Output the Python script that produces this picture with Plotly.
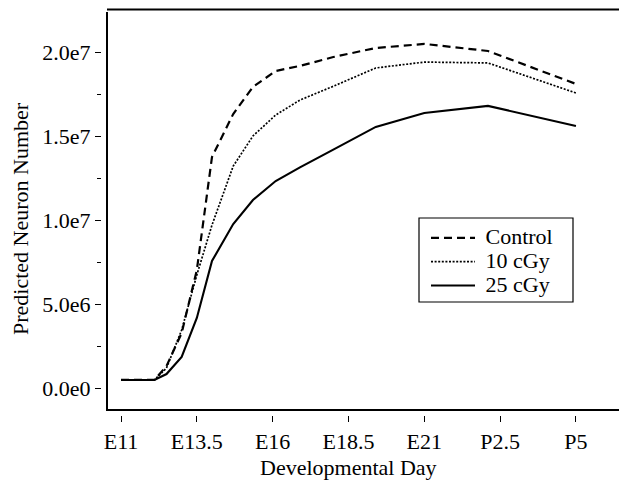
import plotly.graph_objects as go

# Developmental day (E11 = 11, P0 = 21 (E21), P2.5 = 23.5, P5 = 26)
days = [11, 12.1, 12.5, 13, 13.5, 14, 14.7, 15.35, 16.1, 16.9, 18, 19.4, 21, 23.1, 26]

control = [0.48e6, 0.48e6, 1.31e6, 3.27e6, 7.02e6, 13.75e6, 16.31e6, 17.92e6, 18.87e6,
           19.17e6, 19.70e6, 20.24e6, 20.48e6, 20.06e6, 18.10e6]
dose10 = [0.48e6, 0.48e6, 1.19e6, 3.45e6, 6.73e6, 9.70e6, 13.21e6, 15.00e6, 16.25e6,
          17.14e6, 17.96e6, 19.05e6, 19.40e6, 19.35e6, 17.56e6]
dose25 = [0.48e6, 0.48e6, 0.83e6, 1.85e6, 4.17e6, 7.56e6, 9.76e6, 11.19e6, 12.32e6,
          13.13e6, 14.19e6, 15.54e6, 16.37e6, 16.79e6, 15.60e6]

series_names = ["Control", "10 cGy", "25 cGy"]

x_tick_vals = [11, 13.5, 16, 18.5, 21, 23.5, 26]
x_tick_text = ["E11", "E13.5", "E16", "E18.5", "E21", "P2.5", "P5"]
y_tick_vals = [0, 5e6, 1e7, 1.5e7, 2e7]
y_tick_text = ["0.0e0", "5.0e6", "1.0e7", "1.5e7", "2.0e7"]

FONT = "Liberation Serif, Times New Roman, serif"
FS = 22

W, H = 619, 487
L, R, T, B = 102, 619, 9, 415  # plot area in pixels


def px(xp):
    return (xp - L) / (R - L)


def py(yp):
    return (B - yp) / (B - T)


def lbl(s):
    return '<span style="font-size:22px">\u00a0' + s + '</span>'


fig = go.Figure()
styles = [dict(dash="8px,5px", width=2.2), dict(dash="2px,1.6px", width=1.7), dict(dash="solid", width=2.1)]
for name, vals, st in zip(series_names, [control, dose10, dose25], styles):
    fig.add_trace(go.Scatter(x=days, y=vals, mode="lines", name=lbl(name),
                             line=dict(color="black", **st)))

fig.update_layout(
    width=W, height=H,
    margin=dict(l=L, r=W - R, t=T, b=H - B, pad=0, autoexpand=False),
    paper_bgcolor="white", plot_bgcolor="white",
    font=dict(family=FONT, size=FS, color="black"),
    showlegend=True,
    legend=dict(x=px(426), y=py(221), xanchor="left", yanchor="top",
                borderwidth=0, bgcolor="rgba(0,0,0,0)",
                font=dict(family=FONT, size=16, color="black"),
                itemwidth=44, itemclick=False),
    xaxis=dict(range=[11 + (L - 121) / 30.33, 11 + (R - 121) / 30.33],
               tickvals=x_tick_vals, ticktext=x_tick_text, automargin=False,
               ticks="outside", ticklen=6, tickwidth=1.2, tickcolor="black",
               showline=False, showgrid=False, zeroline=False,
               tickfont=dict(family=FONT, size=FS, color="black"),
               ticklabelstandoff=1),
    yaxis=dict(range=[-(B - 388) / 84 * 5e6, (388 - T) / 84 * 5e6],
               tickvals=y_tick_vals, ticktext=y_tick_text, automargin=False,
               ticks="outside", ticklen=6, tickwidth=1.2, tickcolor="black",
               minor=dict(tickvals=[2.5e6, 7.5e6, 1.25e7, 1.75e7], ticks="outside",
                          ticklen=4, tickwidth=1.2, tickcolor="black", showgrid=False),
               showline=False, showgrid=False, zeroline=False,
               tickfont=dict(family=FONT, size=FS, color="black")),
)

# axis frame lines (offset from ticks as in the reference)
fig.add_shape(type="line", xref="paper", yref="paper", x0=px(107), x1=px(107),
              y0=py(12), y1=py(410), line=dict(color="black", width=2))
fig.add_shape(type="line", xref="paper", yref="paper", x0=px(106), x1=1,
              y0=py(410), y1=py(410), line=dict(color="black", width=2))
fig.add_shape(type="line", xref="paper", yref="paper", x0=px(107), x1=1,
              y0=py(9.5), y1=py(9.5), line=dict(color="black", width=2))
# legend frame
fig.add_shape(type="rect", xref="paper", yref="paper", x0=px(419), x1=px(573),
              y0=py(302), y1=py(218), line=dict(color="black", width=1.2))

# axis titles
fig.add_annotation(text="Developmental Day", xref="paper", yref="paper",
                   x=px(348.5), y=py(467), xanchor="center", yanchor="middle",
                   showarrow=False, font=dict(family=FONT, size=FS, color="black"))
fig.add_annotation(text="Predicted Neuron Number", xref="paper", yref="paper",
                   x=px(21), y=py(219), xanchor="center", yanchor="middle", textangle=-90,
                   showarrow=False, font=dict(family=FONT, size=FS, color="black"))

fig.write_html("out.html", config={"displayModeBar": False},
               post_script="document.body.style.margin='0';document.body.style.overflow='hidden';")
